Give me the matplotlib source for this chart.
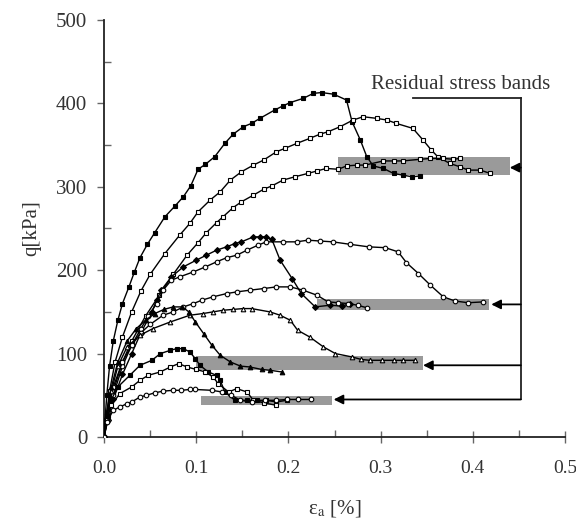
import matplotlib
matplotlib.use("Agg")
import matplotlib.pyplot as plt
from matplotlib.ticker import MultipleLocator, FormatStrFormatter

plt.rcParams["font.family"] = ["Liberation Serif", "DejaVu Serif"]
plt.rcParams["mathtext.fontset"] = "stix"

# Deviatoric stress q [kPa] against axial strain [%] for each test
c1_x = [0.0, 0.001, 0.003, 0.006, 0.010, 0.015, 0.020, 0.027, 0.033, 0.039, 0.047, 0.055, 0.066,
        0.077, 0.086, 0.094, 0.102, 0.110, 0.120, 0.131, 0.140, 0.151, 0.160, 0.169, 0.185, 0.194,
        0.202, 0.216, 0.227, 0.236, 0.249, 0.263, 0.269, 0.278, 0.285, 0.292, 0.303, 0.314, 0.324,
        0.334, 0.343]
c1_q = [0, 20, 50, 85, 115, 140, 160, 180, 198, 215, 231, 245, 264, 277, 288, 301, 321, 327, 336,
        352, 363, 372, 376, 382, 392, 397, 401, 406, 412, 413, 411, 404, 378, 356, 336, 325, 322,
        316, 314, 312, 313]

c2_x = [0.0, 0.002, 0.006, 0.012, 0.020, 0.030, 0.040, 0.050, 0.066, 0.082, 0.093, 0.102, 0.115,
        0.126, 0.137, 0.149, 0.162, 0.173, 0.187, 0.196, 0.209, 0.223, 0.234, 0.243, 0.256, 0.270,
        0.281, 0.296, 0.307, 0.317, 0.335, 0.346, 0.355, 0.362, 0.375, 0.386, 0.395, 0.408, 0.419]
c2_q = [0, 20, 55, 90, 120, 150, 175, 195, 220, 242, 256, 270, 284, 294, 308, 318, 326, 332, 342,
        346, 352, 358, 363, 366, 372, 380, 384, 382, 380, 376, 370, 356, 344, 336, 328, 324, 320,
        320, 316]

c3_x = [0.0, 0.004, 0.010, 0.020, 0.030, 0.045, 0.060, 0.075, 0.090, 0.102, 0.111, 0.122, 0.129,
        0.140, 0.149, 0.162, 0.173, 0.182, 0.194, 0.207, 0.221, 0.231, 0.241, 0.254, 0.263, 0.274,
        0.283, 0.303, 0.314, 0.324, 0.343, 0.354, 0.368, 0.379, 0.386]
c3_q = [0, 25, 55, 90, 115, 145, 170, 195, 218, 233, 245, 257, 264, 275, 282, 290, 297, 301, 308,
        312, 316, 319, 322, 321, 325, 326, 326, 331, 331, 331, 333, 334, 334, 333, 334]

c4_x = [0.0, 0.004, 0.010, 0.020, 0.030, 0.040, 0.052, 0.057, 0.062, 0.073, 0.086, 0.100, 0.111,
        0.122, 0.133, 0.142, 0.149, 0.162, 0.169, 0.176, 0.182, 0.191, 0.204, 0.214, 0.229, 0.245,
        0.258, 0.267]
c4_q = [0, 20, 45, 75, 100, 125, 150, 164, 176, 192, 204, 212, 218, 224, 228, 232, 234, 240, 240,
        240, 237, 212, 190, 172, 156, 158, 157, 160]

c5_x = [0.0, 0.004, 0.010, 0.020, 0.030, 0.040, 0.048, 0.057, 0.064, 0.073, 0.082, 0.097, 0.110,
        0.122, 0.133, 0.144, 0.155, 0.167, 0.176, 0.194, 0.209, 0.221, 0.234, 0.248, 0.267, 0.287,
        0.305, 0.319, 0.328, 0.341, 0.354, 0.368, 0.381, 0.395, 0.411]
c5_q = [0, 20, 50, 85, 110, 130, 145, 160, 176, 188, 192, 198, 204, 210, 215, 218, 224, 230, 234,
        234, 234, 236, 235, 234, 231, 228, 227, 222, 209, 196, 182, 168, 163, 161, 162]

c6_x = [0.0, 0.004, 0.010, 0.020, 0.030, 0.040, 0.050, 0.064, 0.075, 0.086, 0.097, 0.106, 0.118,
        0.133, 0.144, 0.158, 0.173, 0.187, 0.202, 0.216, 0.231, 0.243, 0.254, 0.265, 0.275, 0.285]
c6_q = [0, 30, 60, 90, 110, 125, 135, 146, 150, 156, 160, 164, 168, 172, 174, 176, 178, 180, 180,
        176, 170, 162, 161, 160, 158, 155]

c7_x = [0.0, 0.003, 0.008, 0.015, 0.025, 0.039, 0.053, 0.072, 0.093, 0.107, 0.118, 0.129, 0.140,
        0.151, 0.160, 0.180, 0.191, 0.202, 0.210, 0.223, 0.238, 0.251, 0.269, 0.279, 0.288, 0.301,
        0.314, 0.324, 0.337]
c7_q = [0, 25, 55, 85, 108, 122, 130, 138, 146, 148, 150, 152, 153, 154, 154, 150, 146, 140, 128,
        120, 108, 100, 96, 93, 92, 92, 92, 92, 92]

c8_x = [0.0, 0.003, 0.008, 0.015, 0.025, 0.035, 0.045, 0.055, 0.065, 0.075, 0.085, 0.092, 0.099,
        0.108, 0.117, 0.126, 0.137, 0.148, 0.158, 0.171, 0.180, 0.193]
c8_q = [0, 30, 60, 90, 115, 130, 140, 148, 153, 156, 156, 150, 138, 124, 110, 98, 90, 85, 84, 81,
        80, 78]

c9_x = [0.0, 0.003, 0.008, 0.015, 0.028, 0.039, 0.052, 0.061, 0.072, 0.079, 0.086, 0.093, 0.099,
        0.104, 0.113, 0.122, 0.126, 0.131, 0.142, 0.155, 0.166, 0.176, 0.187, 0.198]
c9_q = [0, 25, 45, 60, 74, 86, 92, 100, 104, 106, 106, 102, 94, 86, 78, 74, 68, 54, 44, 44, 44, 44,
        42, 44]

c10_x = [0.0, 0.003, 0.008, 0.017, 0.030, 0.039, 0.048, 0.061, 0.072, 0.081, 0.090, 0.100, 0.110,
         0.118, 0.124, 0.135, 0.144, 0.155, 0.162, 0.173, 0.187]
c10_q = [0, 20, 38, 52, 60, 68, 74, 78, 84, 88, 84, 81, 78, 72, 64, 54, 58, 54, 44, 41, 38]

c11_x = [0.0, 0.003, 0.010, 0.017, 0.025, 0.030, 0.039, 0.046, 0.055, 0.064, 0.075, 0.084, 0.093,
         0.099, 0.117, 0.128, 0.138, 0.148, 0.160, 0.175, 0.187, 0.198, 0.210, 0.225]
c11_q = [0, 18, 32, 36, 40, 42, 48, 50, 53, 55, 56, 56, 57, 57, 56, 54, 50, 44, 42, 44, 44, 45, 45,
         45]

# Residual stress bands: (strain start, strain end, q low, q high)
band_x0 = [0.254, 0.231, 0.100, 0.105]
band_x1 = [0.440, 0.418, 0.346, 0.247]
band_lo = [314, 152, 80, 38]
band_hi = [336, 166, 97, 49]
arrow_q = [323, 159, 86, 45]
arrow_tip = [0.440, 0.420, 0.346, 0.249]
label_text = "Residual stress bands"

fig = plt.figure(figsize=(5.76, 5.23), dpi=100)
ax = fig.add_axes([0.1806, 0.1644, 0.8004, 0.7974])

for x0, x1, lo, hi in zip(band_x0, band_x1, band_lo, band_hi):
    ax.fill_between([x0, x1], lo, hi, color="#9a9a9a", lw=0, zorder=1)

series = [
    (c1_x, c1_q, "s", "black"),
    (c2_x, c2_q, "s", "white"),
    (c3_x, c3_q, "s", "white"),
    (c4_x, c4_q, "D", "black"),
    (c5_x, c5_q, "o", "white"),
    (c6_x, c6_q, "o", "white"),
    (c7_x, c7_q, "^", "white"),
    (c8_x, c8_q, "^", "black"),
    (c9_x, c9_q, "s", "black"),
    (c10_x, c10_q, "s", "white"),
    (c11_x, c11_q, "o", "white"),
]
for xs, qs, mk, fc in series:
    ax.plot(xs, qs, color="black", lw=1.0, marker=mk, ms=3.3 if mk != "D" else 3.0,
            mfc=fc, mec="black", mew=0.8, zorder=3)

# Callout: bracket line with arrows pointing to each band
bx = 0.452
ax.plot([0.335, bx], [407, 407], color="#222222", lw=1.3, zorder=4)
ax.plot([bx, bx], [407, arrow_q[-1]], color="#222222", lw=1.3, zorder=4)
for q, tip in zip(arrow_q, arrow_tip):
    ax.annotate("", xy=(tip, q), xytext=(bx, q),
                arrowprops=dict(arrowstyle="-|>", color="black", lw=1.3,
                                mutation_scale=14, shrinkA=0, shrinkB=0),
                zorder=5)
ax.text(0.290, 423, label_text, fontsize=15, color="#333333", ha="left", va="center")

ax.set_xlim(0, 0.5)
ax.set_ylim(0, 500)
ax.xaxis.set_major_locator(MultipleLocator(0.1))
ax.xaxis.set_minor_locator(MultipleLocator(0.05))
ax.yaxis.set_major_locator(MultipleLocator(100))
ax.yaxis.set_minor_locator(MultipleLocator(50))
ax.xaxis.set_major_formatter(FormatStrFormatter("%.1f"))

for s in ["top", "right"]:
    ax.spines[s].set_visible(False)
for s in ["left", "bottom"]:
    ax.spines[s].set_linewidth(1.3)
    ax.spines[s].set_color("#222222")

ax.tick_params(axis="x", which="major", direction="inout", length=9, width=1, color="#666666",
               labelsize=14, labelcolor="#333333", pad=12)
ax.tick_params(axis="x", which="minor", direction="in", length=5, width=1, color="#666666")
ax.tick_params(axis="y", which="major", direction="out", length=5, width=1, color="#666666",
               labelsize=15, labelcolor="#333333", pad=7)
ax.tick_params(axis="y", which="minor", direction="in", length=5, width=1, color="#666666")

ax.set_ylabel("q[kPa]", fontsize=15, color="#333333", labelpad=11)
ax.set_xlabel(r"ε$_{\mathrm{a}}$ [%]", fontsize=15, color="#333333", labelpad=15)

fig.savefig("out.png", dpi=100)
